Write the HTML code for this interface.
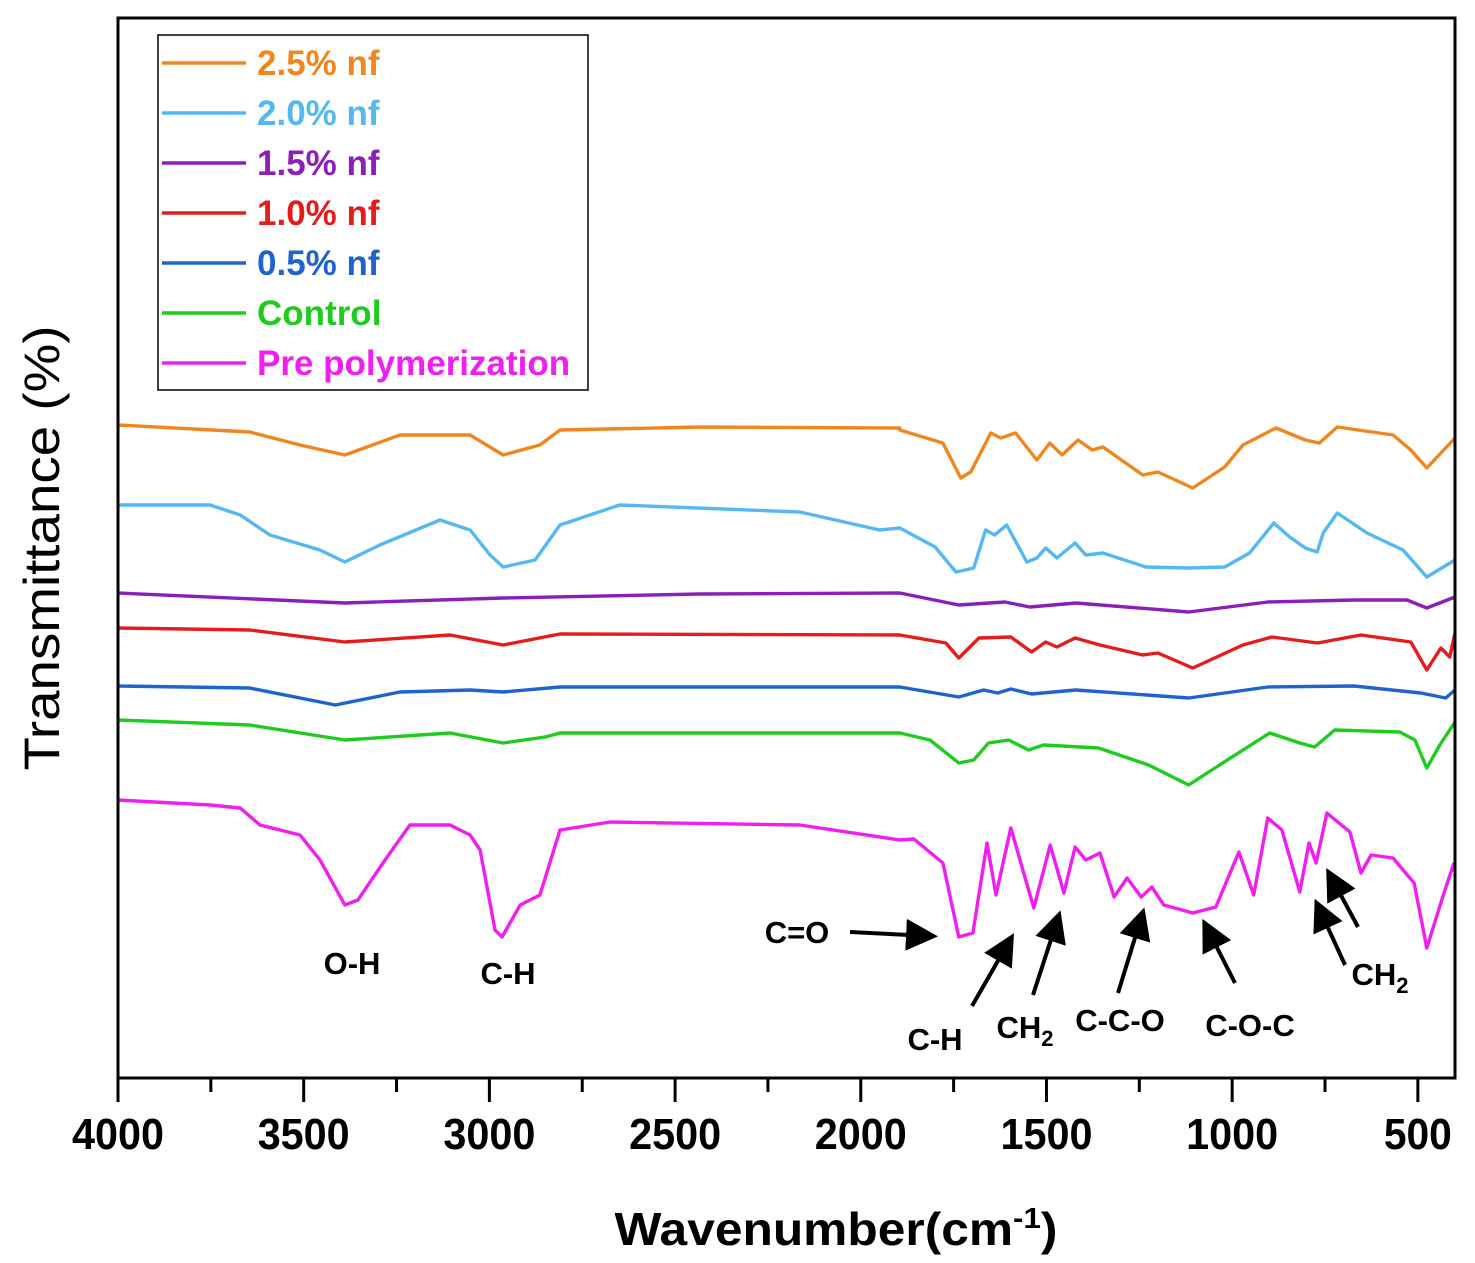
<!DOCTYPE html>
<html><head><meta charset="utf-8"><style>
html,body{margin:0;padding:0;background:#fff;}
svg{display:block;font-family:"Liberation Sans",sans-serif;}
</style></head><body>
<svg id="chart" width="1475" height="1263" viewBox="0 0 1475 1263">
<defs><marker id="ah" markerWidth="8" markerHeight="8" refX="6" refY="4" orient="auto" markerUnits="strokeWidth"><path d="M0,0 L8,4 L0,8 Z" fill="#000"/></marker></defs>
<g id="series"></g>
<rect x="118" y="18" width="1337" height="1060" fill="none" stroke="#000" stroke-width="3"/>
<g id="xaxis"></g>
<text x="42" y="548" font-size="50" text-anchor="middle" textLength="445" lengthAdjust="spacingAndGlyphs" transform="rotate(-90 42 548)" dy="17">Transmittance (%)</text>
<text x="836" y="1245" font-size="46" font-weight="bold" text-anchor="middle" textLength="443" lengthAdjust="spacingAndGlyphs">Wavenumber(cm<tspan dy="-17" font-size="29">-1</tspan><tspan dy="17">)</tspan></text>
<g>
<rect x="158" y="35" width="430" height="355" fill="#fff" stroke="#000" stroke-width="1.5"/>
<g id="legend"></g>
</g>
<g font-size="31" font-weight="bold">
<text x="352" y="974" text-anchor="middle">O-H</text>
<text x="508" y="984" text-anchor="middle">C-H</text>
<text x="797" y="943" text-anchor="middle">C=O</text>
<text x="935" y="1050" text-anchor="middle">C-H</text>
<text x="1025" y="1038" text-anchor="middle">CH<tspan dy="8" font-size="22">2</tspan></text>
<text x="1120" y="1031" text-anchor="middle">C-C-O</text>
<text x="1250" y="1036" text-anchor="middle">C-O-C</text>
<text x="1380" y="985" text-anchor="middle">CH<tspan dy="8" font-size="22">2</tspan></text>
<g stroke="#000" stroke-width="4" marker-end="url(#ah)">
<line x1="850" y1="932" x2="930" y2="936"/>
<line x1="972" y1="1006" x2="1010" y2="940"/>
<line x1="1033" y1="995" x2="1058" y2="918"/>
<line x1="1118" y1="993" x2="1142" y2="915"/>
<line x1="1235" y1="983" x2="1206" y2="926"/>
<line x1="1345" y1="965" x2="1318" y2="906"/>
<line x1="1358" y1="927" x2="1330" y2="875"/>
</g></g>
</svg>
<script>
// Transmittance values in arbitrary units (higher = more transmittance)
const seriesNames = ["2.5% nf","2.0% nf","1.5% nf","1.0% nf","0.5% nf","Control","Pre polymerization"];
const seriesColors = ["#f0871e","#55b8f0","#8c1fb8","#e41c1c","#1f63cf","#1ecc1e","#f01ef0"];
const xTicks = [4000,3500,3000,2500,2000,1500,1000,500];
const wnOrange = [4000,3646,3510,3389,3241,3052,2963,2864,2810,2433,1895,1895,1779,1731,1704,1650,1623,1583,1526,1491,1458,1415,1377,1348,1241,1200,1106,1020,971,882,803,765,717,567,519,476,400];
const tOrange = [653,646,633,623,643,643,623,633,648,651,650,648,635,600,606,645,640,645,618,635,623,638,628,631,603,606,590,611,633,650,638,635,651,643,628,610,640];
const wnBlue2 = [4000,3752,3671,3591,3456,3389,3295,3133,3052,2998,2963,2877,2810,2649,2164,1949,1895,1800,1744,1696,1664,1640,1607,1553,1526,1502,1472,1423,1394,1348,1232,1117,1020,953,888,845,803,771,755,717,637,540,476,400];
const tBlue2 = [573,573,563,543,528,516,533,558,548,523,511,518,553,573,566,548,550,531,506,510,548,543,553,516,520,530,520,535,523,525,511,510,511,525,555,541,530,526,545,565,545,528,501,518];
const wnPurple = [4000,3389,2963,2433,1895,1736,1612,1545,1421,1117,904,672,529,476,400];
const tPurple = [485,475,480,484,485,473,476,471,475,466,476,478,478,470,481];
const wnRed = [4000,3646,3389,3106,2963,2810,1895,1771,1736,1682,1596,1540,1502,1472,1423,1356,1241,1200,1106,971,893,770,653,519,476,438,414,400];
const tRed = [450,448,436,443,433,444,443,435,420,440,441,426,436,431,440,433,423,425,410,433,441,435,443,436,408,430,421,445];
const wnBlue = [4000,3646,3415,3241,3052,2963,2810,1895,1736,1669,1631,1596,1540,1421,1117,904,672,492,425,400];
const tBlue = [392,390,373,386,388,386,391,391,381,388,385,389,384,388,380,391,392,385,380,388];
const wnGreen = [4000,3646,3389,3106,2963,2850,2810,1895,1814,1736,1696,1656,1602,1548,1508,1360,1225,1117,1034,899,818,778,724,549,508,476,441,400];
const tGreen = [358,353,338,345,335,341,345,345,338,315,318,335,338,328,333,330,313,293,313,345,335,331,348,346,338,310,333,356];
const wnPink = [4000,3752,3671,3618,3510,3456,3389,3354,3281,3214,3106,3052,3025,2985,2966,2917,2864,2810,2675,2164,1895,1857,1779,1736,1698,1660,1636,1596,1534,1490,1453,1423,1394,1356,1318,1283,1245,1216,1184,1106,1044,982,942,904,866,818,793,774,745,683,653,626,567,510,476,433,403];
const tPink = [278,273,270,253,243,218,173,178,218,253,253,243,228,148,141,173,183,248,256,253,238,239,215,141,145,235,183,250,170,233,185,231,218,225,181,200,181,191,173,165,171,226,183,260,248,186,235,215,265,246,205,223,220,195,130,181,215];
const allWn = [wnOrange,wnBlue2,wnPurple,wnRed,wnBlue,wnGreen,wnPink];
const allT = [tOrange,tBlue2,tPurple,tRed,tBlue,tGreen,tPink];

const xScale = w => 118 + (4000 - w) * (1455 - 118) / 3600;
const yScale = t => 1078 - t;
const NS = "http://www.w3.org/2000/svg";
const g = document.getElementById("series");
for (let s = 0; s < allWn.length; s++) {
  const p = document.createElementNS(NS, "polyline");
  p.setAttribute("points", allWn[s].map((w, i) => xScale(w).toFixed(1) + "," + yScale(allT[s][i]).toFixed(1)).join(" "));
  p.setAttribute("fill", "none");
  p.setAttribute("stroke", seriesColors[s]);
  p.setAttribute("stroke-width", "3.4");
  p.setAttribute("stroke-linejoin", "round");
  
  
  g.appendChild(p);
}
const xa = document.getElementById("xaxis");
for (let w = 4000; w >= 400; w -= 250) {
  const major = w % 500 === 0;
  const t = document.createElementNS(NS, "line");
  t.setAttribute("x1", xScale(w)); t.setAttribute("x2", xScale(w));
  t.setAttribute("y1", 1078); t.setAttribute("y2", major ? 1102 : 1092);
  t.setAttribute("stroke", "#000"); t.setAttribute("stroke-width", "3");
  
  
  xa.appendChild(t);
}
xTicks.forEach(w => {
  const tx = document.createElementNS(NS, "text");
  tx.setAttribute("x", xScale(w)); tx.setAttribute("y", 1149);
  tx.setAttribute("text-anchor", "middle");
  tx.setAttribute("font-size", "44"); tx.setAttribute("font-weight", "bold");
  tx.setAttribute("textLength", w >= 1000 ? "92" : "68");
  tx.setAttribute("lengthAdjust", "spacingAndGlyphs");
  tx.textContent = w;
  
  
  xa.appendChild(tx);
});
const lg = document.getElementById("legend");
seriesNames.forEach((n, i) => {
  const y = 63 + i * 50;
  const l = document.createElementNS(NS, "line");
  l.setAttribute("x1", 162); l.setAttribute("x2", 246); l.setAttribute("y1", y); l.setAttribute("y2", y);
  l.setAttribute("stroke", seriesColors[i]); l.setAttribute("stroke-width", "3.5");
  
  
  lg.appendChild(l);
  const t = document.createElementNS(NS, "text");
  t.setAttribute("x", 257); t.setAttribute("y", y + 12);
  t.setAttribute("font-size", "35"); t.setAttribute("font-weight", "bold");
  t.setAttribute("fill", seriesColors[i]);
  t.textContent = n;
  
  
  lg.appendChild(t);
});
</script>
</body></html>
